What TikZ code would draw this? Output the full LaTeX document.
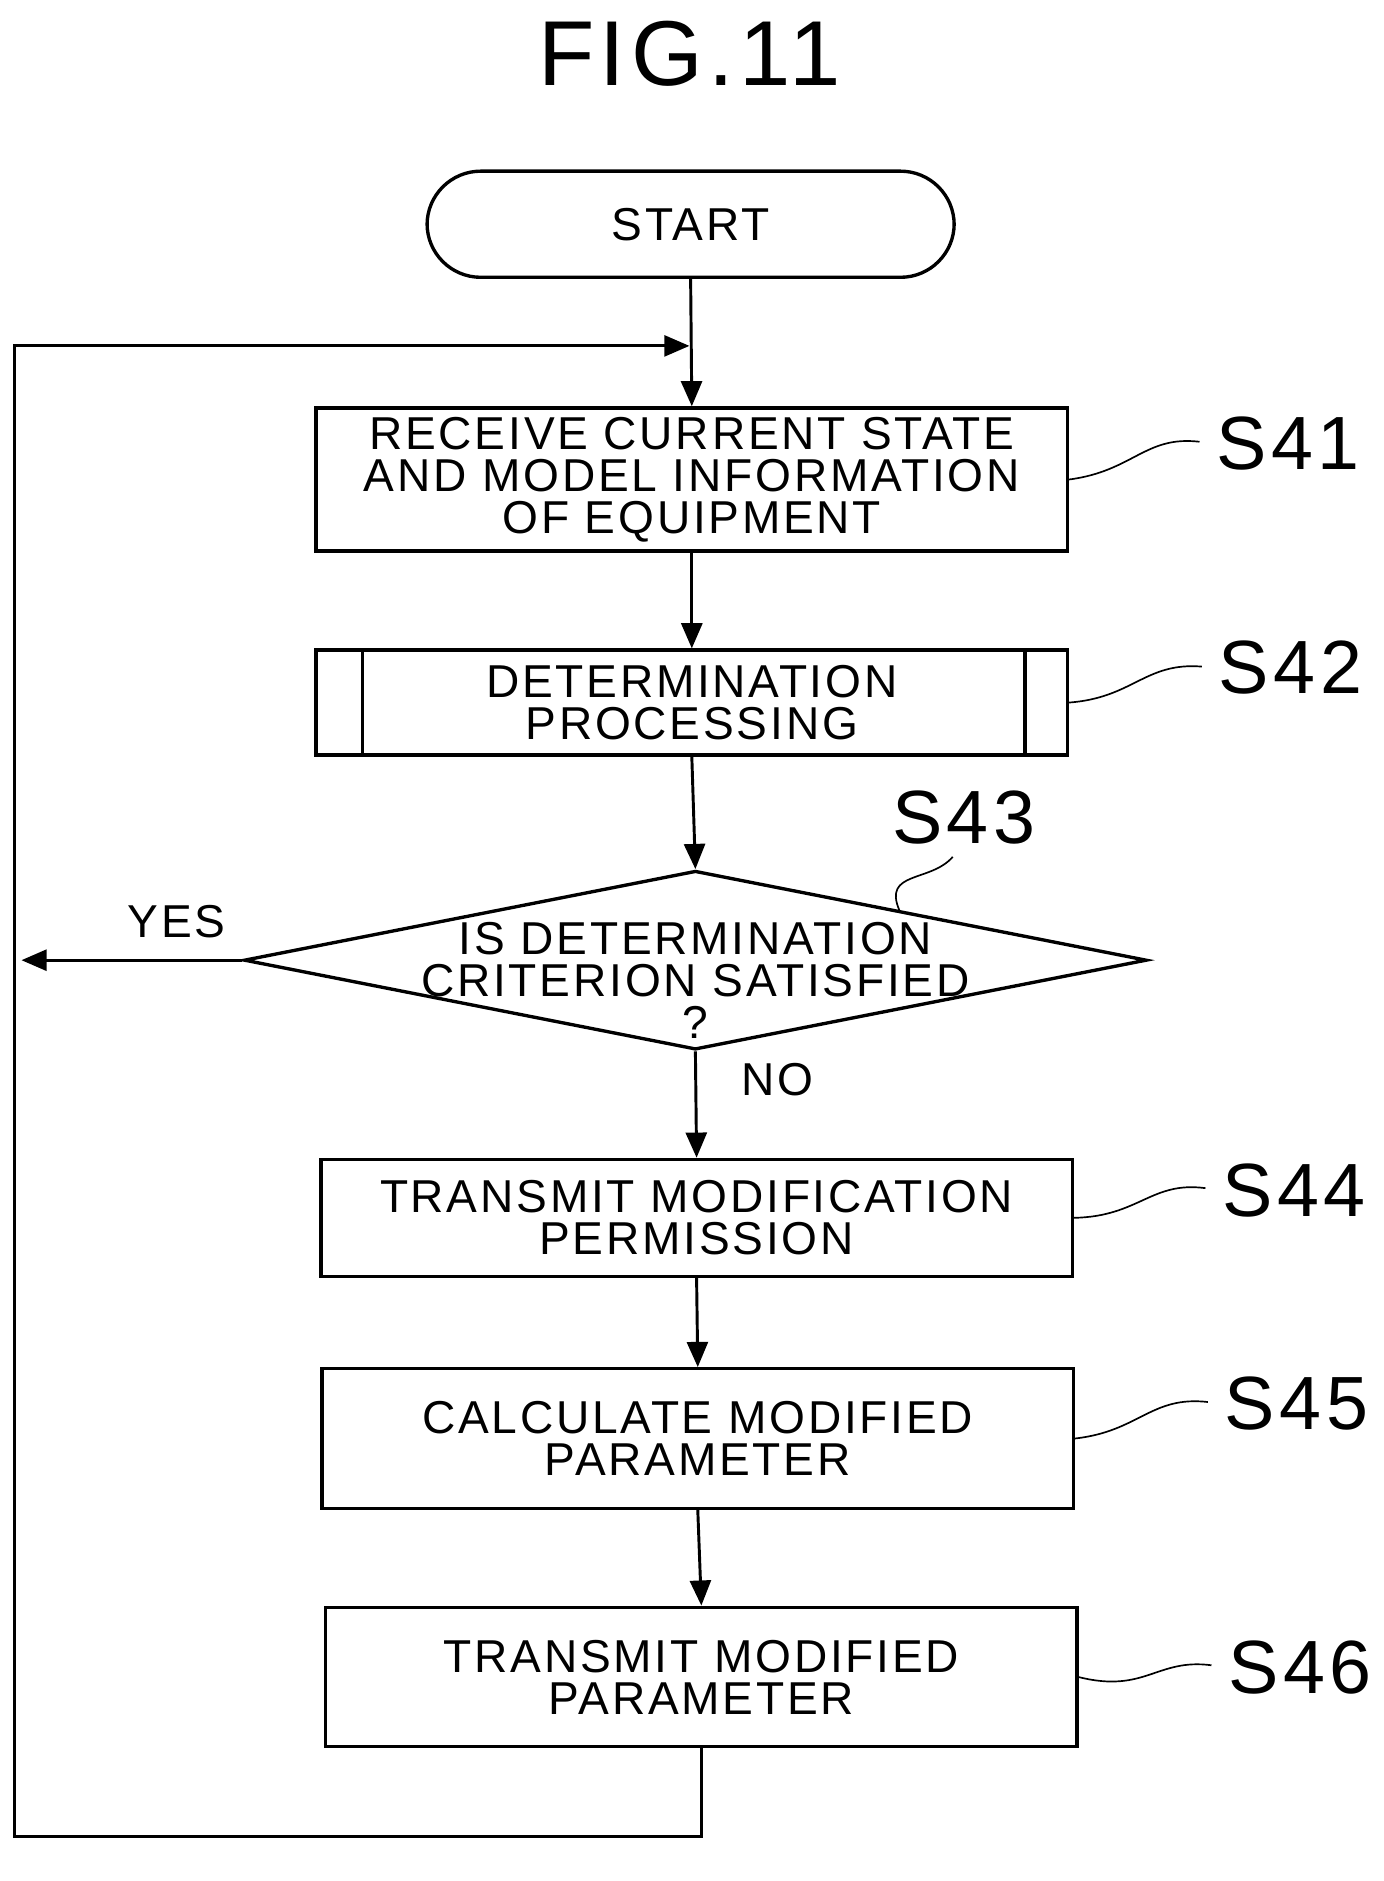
\documentclass[tikz,border=0pt]{standalone}
\usepackage{fontspec}
\setmainfont{Liberation Sans}[LetterSpace=6]
\usetikzlibrary{calc}
\usetikzlibrary{arrows.meta}
\usetikzlibrary{shapes.geometric}

\begin{document}
\begin{tikzpicture}[x=0.02cm, y=-0.02cm,
  every node/.style={font=\fontsize{22}{20}\selectfont, align=center, inner sep=0pt},
  box/.style={draw, line width=1.6pt, minimum width=12.6cm, minimum height=2.2cm},
  steplabel/.style={font=\fontsize{36}{36}\selectfont},
  leader/.style={line width=0.8pt, shorten >=8pt},
  flow/.style={line width=1.4pt, -{Triangle[length=12pt, width=10pt]}}]
  \useasboundingbox (0,0) rectangle (1160,1577);

  \node[font=\fontsize{44}{44}\selectfont] (title) at (578,45) {FIG.11};

  \node[draw, line width=1.6pt, rounded corners=0.9cm, minimum width=8.84cm, minimum height=1.78cm] (start) at (579,188) {START};
  \node[box, minimum height=2.4cm] (s41) at (580,402) {RECEIVE CURRENT STATE\\AND MODEL INFORMATION\\OF EQUIPMENT};
  \node[box, minimum height=1.76cm] (s42) at (580,589) {DETERMINATION\\PROCESSING};
  \draw[line width=1.6pt] ($(s42.north west)+(40,0)$) -- ($(s42.south west)+(40,0)$);
  \draw[line width=1.6pt] ($(s42.north east)+(-37,0)$) -- ($(s42.south east)+(-37,0)$);
  \node[draw, line width=1.6pt, diamond, aspect=5.05, minimum width=15.14cm, minimum height=3.0cm, inner sep=0pt] (s43) at (583,805) {};
  \node at (583,822) {IS DETERMINATION\\CRITERION SATISFIED\\?};
  \node[box, minimum height=1.96cm] (s44) at (584,1021) {TRANSMIT MODIFICATION\\PERMISSION};
  \node[box, minimum height=2.34cm] (s45) at (585,1206) {CALCULATE MODIFIED\\PARAMETER};
  \node[box, minimum height=2.34cm] (s46) at (588,1406) {TRANSMIT MODIFIED\\PARAMETER};

  \node[steplabel] (l41) at (1080,372) {S41};
  \node[steplabel] (l42) at (1082,560) {S42};
  \node[steplabel] (l43) at (808,685) {S43};
  \node[steplabel] (l44) at (1085,998) {S44};
  \node[steplabel] (l45) at (1087,1177) {S45};
  \node[steplabel] (l46) at (1090,1398) {S46};
  \node (yes) at (148,773) {YES};
  \node (no) at (652,905) {NO};

  % leaders
  \draw[leader] (s41.east) .. controls (950,395) and (960,365) .. (l41.west);
  \draw[leader] (s42.east) .. controls (950,585) and (960,555) .. (l42.west);
  \draw[leader] ($(s43.north)!0.45!(s43.east)$) .. controls (740,730) and (780,740) .. (l43.south);
  \draw[leader] (s44.east) .. controls (955,1020) and (965,990) .. (l44.west);
  \draw[leader] (s45.east) .. controls (955,1200) and (965,1170) .. (l45.west);
  \draw[leader] (s46.east) .. controls (960,1420) and (970,1390) .. (l46.west);

  % flow
  \coordinate (join) at (578,290);
  \coordinate (back) at (18,805);
  \draw[flow] (start.south) -- (s41.north);
  \draw[flow] (s41.south) -- (s42.north);
  \draw[flow] (s42.south) -- (s43.north);
  \draw[flow] (s43.south) -- (s44.north);
  \draw[flow] (s44.south) -- (s45.north);
  \draw[flow] (s45.south) -- (s46.north);
  \draw[flow] (s43.west) -- (back);
  \draw[flow] (s46.south) -- (588,1540) -- (12,1540) -- (12,290) -- (join);
\end{tikzpicture}
\end{document}
